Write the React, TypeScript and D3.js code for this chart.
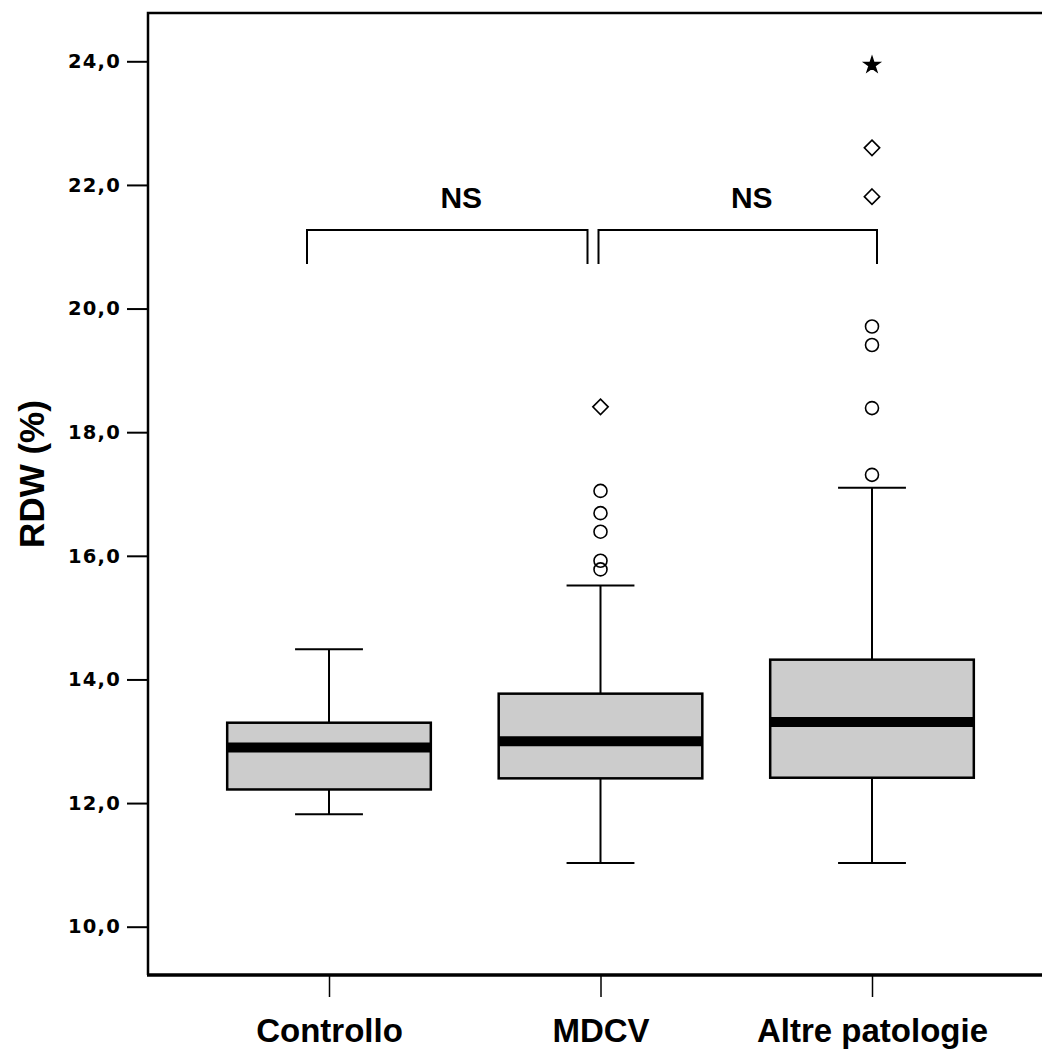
import React, { useEffect, useRef } from 'react';
import * as d3 from 'd3';

// box summary per group (RDW %)
const categories = ['Controllo', 'MDCV', 'Altre patologie'];
const whiskerLow = [11.82, 11.03, 11.03];
const q1 = [12.22, 12.4, 12.41];
const medians = [12.9, 13.0, 13.31];
const q3 = [13.3, 13.77, 14.32];
const whiskerHigh = [14.49, 15.52, 17.1];

// outliers
const circleGroup = ['MDCV', 'MDCV', 'MDCV', 'MDCV', 'MDCV', 'Altre patologie', 'Altre patologie', 'Altre patologie', 'Altre patologie'];
const circleValues = [17.05, 16.69, 16.39, 15.92, 15.78, 19.71, 19.41, 18.39, 17.31];
const diamondGroup = ['MDCV', 'Altre patologie', 'Altre patologie'];
const diamondValues = [18.41, 22.6, 21.81];
const starGroup = ['Altre patologie'];
const starValues = [23.94];

const yTicks = [10, 12, 14, 16, 18, 20, 22, 24];

// significance brackets
const bracketFrom = ['Controllo', 'MDCV'];
const bracketTo = ['MDCV', 'Altre patologie'];
const bracketLabels = ['NS', 'NS'];

const App = () => {
  const svgRef = useRef<SVGSVGElement>(null);
  const width = 1042;
  const height = 1055;

  useEffect(() => {
    document.body.style.margin = '0';
    const svg = d3.select(svgRef.current);
    svg.selectAll('*').remove();

    const left = 148;
    const top = 13;
    const bottom = 975;

    const x = d3.scalePoint<string>().domain(categories).range([329, 872]);
    const y = d3.scaleLinear().domain([10, 24]).range([926.7, 61.3]);
    const boxW = x.step() * 0.75;
    const capW = boxW / 3;

    // frame
    svg.append('path')
      .attr('d', `M${width + 5},${top}H${left}V${bottom}`)
      .attr('fill', 'none')
      .attr('stroke', '#000')
      .attr('stroke-width', 2.5);
    svg.append('line')
      .attr('x1', left - 1).attr('x2', width + 5)
      .attr('y1', bottom).attr('y2', bottom)
      .attr('stroke', '#000').attr('stroke-width', 3.5);

    // y axis ticks
    const yAxis = d3.axisLeft(y).tickValues(yTicks).tickSize(21).tickPadding(6)
      .tickFormat(d => d3.format('.1f')(d as number).replace('.', ','));
    const gy = svg.append('g').attr('transform', `translate(${left},0)`).call(yAxis);
    gy.select('.domain').remove();
    gy.selectAll('line').attr('stroke', '#000').attr('stroke-width', 2);
    gy.selectAll('text')
      .attr('fill', '#000')
      .style('font-family', 'DejaVu Sans')
      .style('font-weight', 'bold')
      .style('font-size', '19.5px')
      .style('letter-spacing', '1.2px');

    // x axis ticks
    const xAxis = d3.axisBottom(x).tickSize(22).tickPadding(14);
    const gx = svg.append('g').attr('transform', `translate(0,${bottom})`).call(xAxis);
    gx.select('.domain').remove();
    gx.selectAll('line').attr('stroke', '#000').attr('stroke-width', 1.5);
    gx.selectAll('text')
      .attr('fill', '#000')
      .attr('dy', '0.95em')
      .style('font-family', 'Liberation Sans')
      .style('font-weight', 'bold')
      .style('font-size', '33px');

    // y title
    svg.append('text')
      .attr('transform', `translate(44,474) rotate(-90)`)
      .attr('text-anchor', 'middle')
      .style('font-family', 'Liberation Sans')
      .style('font-weight', 'bold')
      .style('font-size', '35px')
      .text('RDW (%)');

    // boxes
    categories.forEach((c, i) => {
      const cx = x(c)!;
      const g = svg.append('g');
      g.append('line')
        .attr('x1', cx).attr('x2', cx)
        .attr('y1', y(whiskerHigh[i])).attr('y2', y(q3[i]))
        .attr('stroke', '#000').attr('stroke-width', 2);
      g.append('line')
        .attr('x1', cx).attr('x2', cx)
        .attr('y1', y(q1[i])).attr('y2', y(whiskerLow[i]))
        .attr('stroke', '#000').attr('stroke-width', 2);
      [whiskerHigh[i], whiskerLow[i]].forEach(v => {
        g.append('line')
          .attr('x1', cx - capW / 2).attr('x2', cx + capW / 2)
          .attr('y1', y(v)).attr('y2', y(v))
          .attr('stroke', '#000').attr('stroke-width', 2);
      });
      g.append('rect')
        .attr('x', cx - boxW / 2).attr('width', boxW)
        .attr('y', y(q3[i])).attr('height', y(q1[i]) - y(q3[i]))
        .attr('fill', '#cccccc').attr('stroke', '#000').attr('stroke-width', 2.5);
      g.append('line')
        .attr('x1', cx - boxW / 2).attr('x2', cx + boxW / 2)
        .attr('y1', y(medians[i])).attr('y2', y(medians[i]))
        .attr('stroke', '#000').attr('stroke-width', 10);
    });

    // outliers
    circleValues.forEach((v, i) => {
      svg.append('circle')
        .attr('cx', x(circleGroup[i])!).attr('cy', y(v)).attr('r', 6.5)
        .attr('fill', 'none').attr('stroke', '#000').attr('stroke-width', 1.6);
    });
    const diamond = d3.symbol().type(d3.symbolDiamond2).size(150);
    diamondValues.forEach((v, i) => {
      svg.append('path')
        .attr('d', diamond()!)
        .attr('transform', `translate(${x(diamondGroup[i])},${y(v)})`)
        .attr('fill', 'none').attr('stroke', '#000').attr('stroke-width', 1.6);
    });
    const star = d3.symbol().type(d3.symbolStar).size(75);
    starValues.forEach((v, i) => {
      svg.append('path')
        .attr('d', star()!)
        .attr('transform', `translate(${x(starGroup[i])},${y(v)})`)
        .attr('fill', '#000').attr('stroke', '#000').attr('stroke-width', 1.5);
    });

    // brackets
    const bracketTop = y(21.27);
    const bracketBottom = y(20.72);
    const startOffset = [-22, -2];
    const endOffset = [-13, 5];
    bracketFrom.forEach((c, i) => {
      const x1 = x(c)! + startOffset[i];
      const x2 = x(bracketTo[i])! + endOffset[i];
      svg.append('path')
        .attr('d', `M${x1},${bracketBottom}V${bracketTop}H${x2}V${bracketBottom}`)
        .attr('fill', 'none').attr('stroke', '#000').attr('stroke-width', 2);
      svg.append('text')
        .attr('x', (x1 + x2) / 2 + 14)
        .attr('y', 208)
        .attr('text-anchor', 'middle')
        .style('font-family', 'Liberation Sans')
        .style('font-weight', 'bold')
        .style('font-size', '30px')
        .text(bracketLabels[i]);
    });
  }, []);

  return <svg ref={svgRef} width={width} height={height} style={{ display: 'block', background: '#fff' }}></svg>;
};

export default App;
